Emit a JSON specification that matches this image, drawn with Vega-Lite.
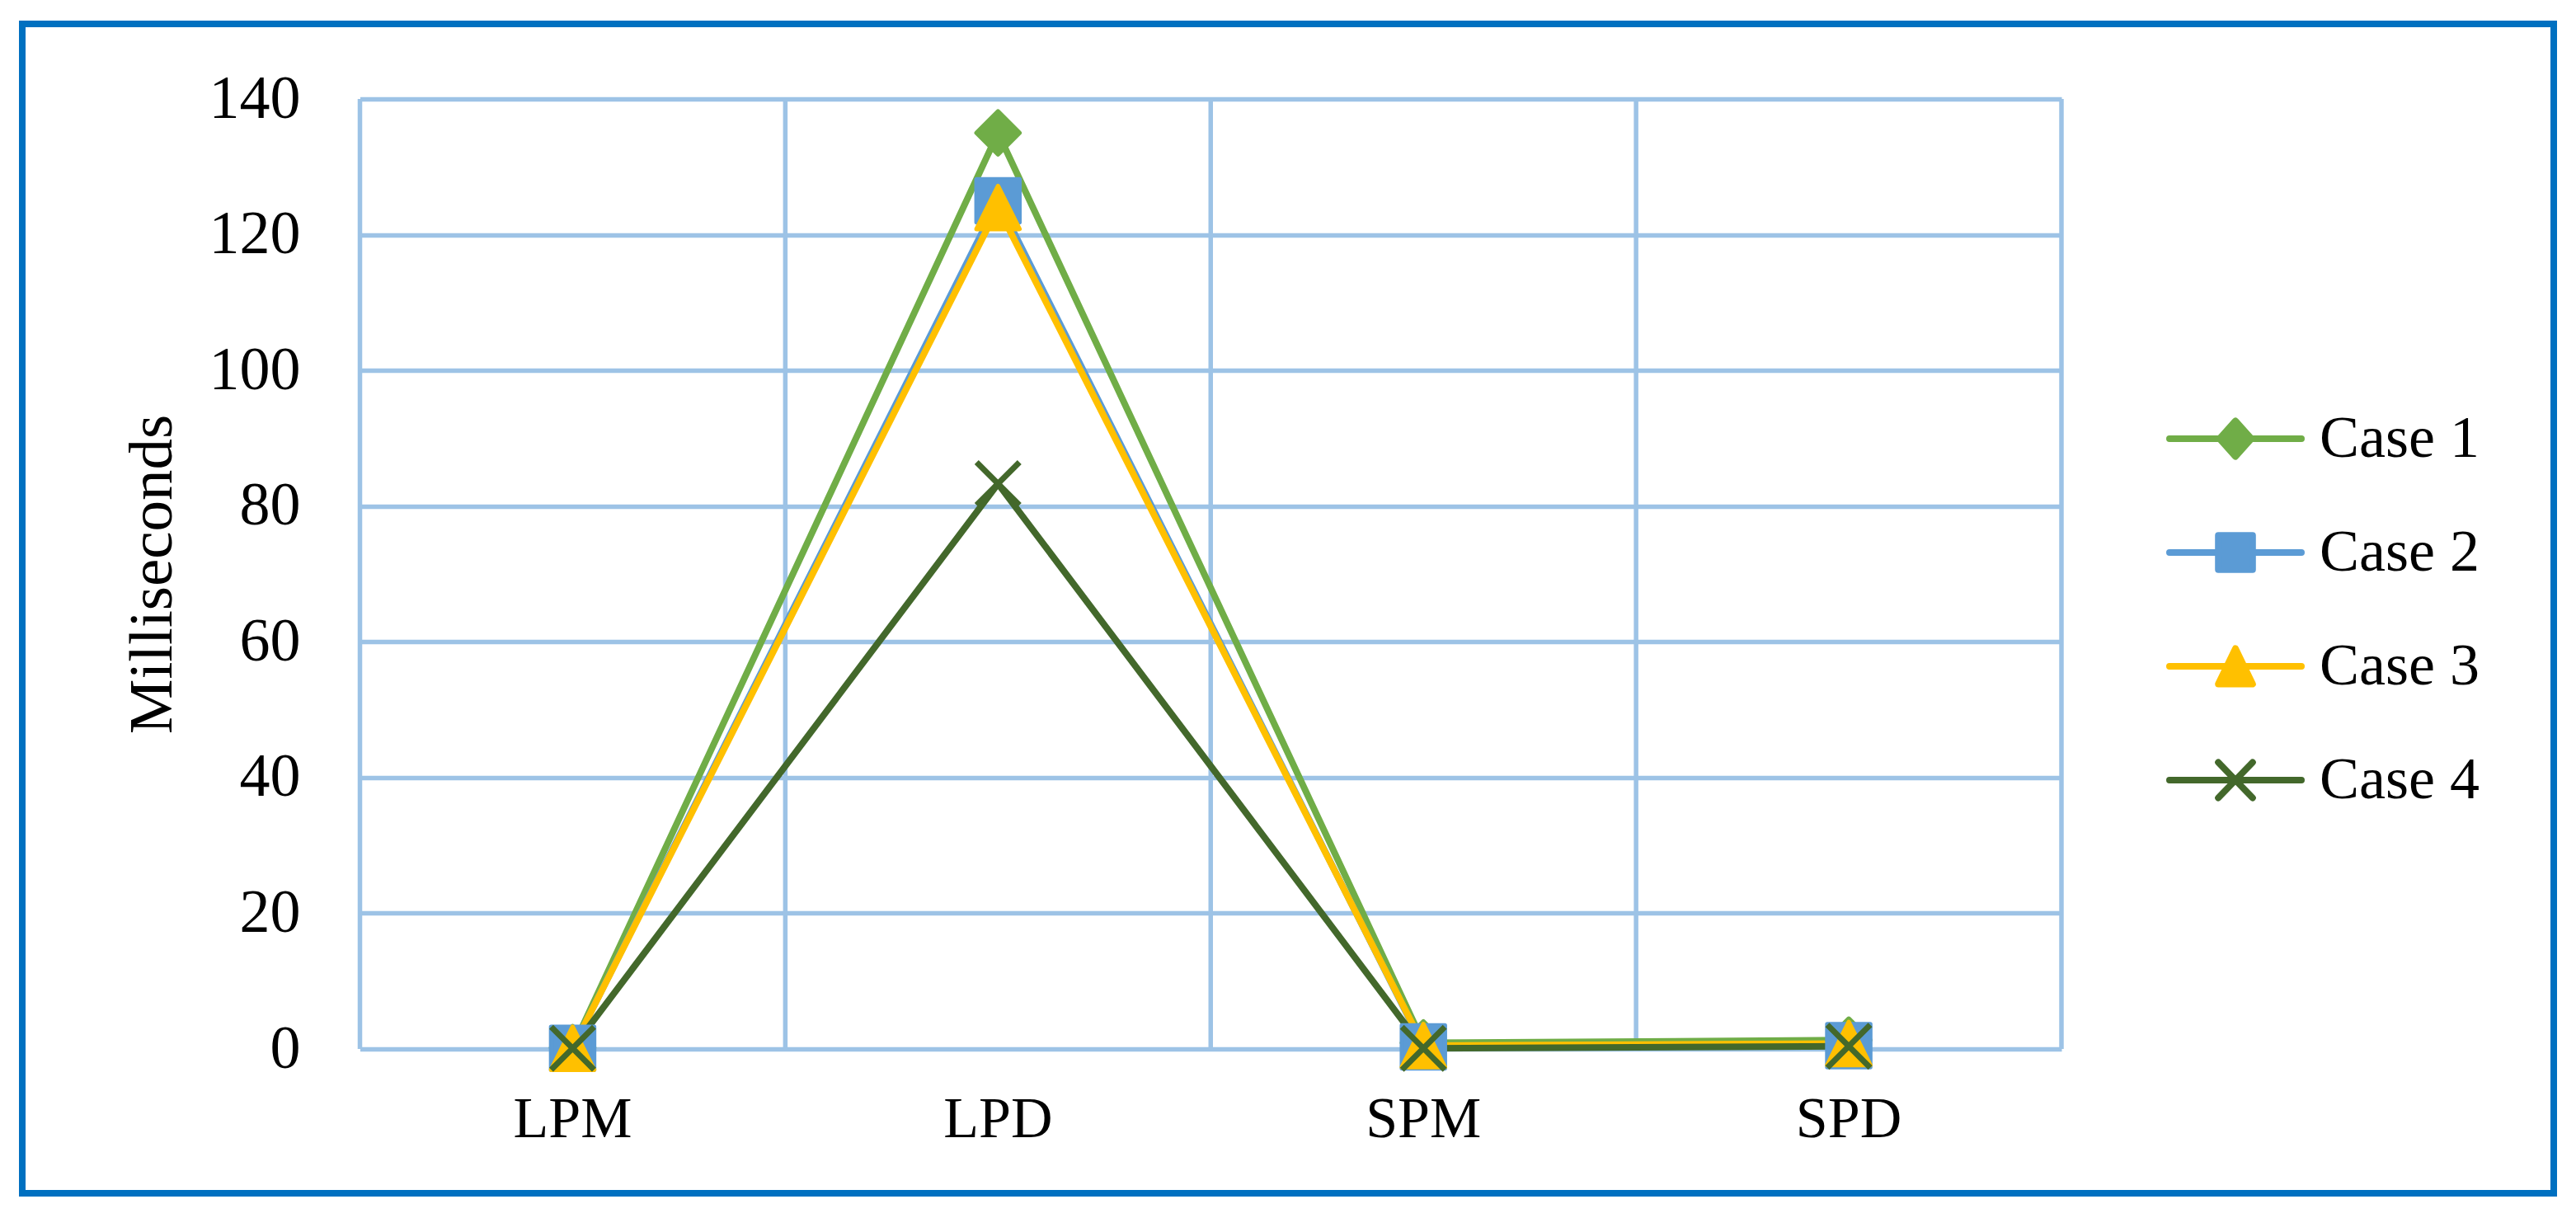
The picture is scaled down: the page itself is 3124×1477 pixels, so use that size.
{
  "$schema": "https://vega.github.io/schema/vega-lite/v6.json",
  "width": 3070,
  "height": 1418,
  "autosize": {"type": "none"},
  "padding": {"left": 27, "top": 29, "right": 27, "bottom": 30},
  "background": "white",
  "config": {
    "view": {"stroke": "#0070C0", "strokeWidth": 8},
    "font": "Liberation Serif",
    "axis": {"labelColor": "black", "titleColor": "black", "labelFont": "Liberation Serif", "titleFont": "Liberation Serif"}
  },
  "data": {
    "values": [
      {"series": "Case 1", "metric": "LPM", "ms": 0.2},
      {"series": "Case 1", "metric": "LPD", "ms": 135},
      {"series": "Case 1", "metric": "SPM", "ms": 0.9},
      {"series": "Case 1", "metric": "SPD", "ms": 1.3},
      {"series": "Case 2", "metric": "LPM", "ms": 0.1},
      {"series": "Case 2", "metric": "LPD", "ms": 125},
      {"series": "Case 2", "metric": "SPM", "ms": 0.3},
      {"series": "Case 2", "metric": "SPD", "ms": 0.5},
      {"series": "Case 3", "metric": "LPM", "ms": 0.1},
      {"series": "Case 3", "metric": "LPD", "ms": 124},
      {"series": "Case 3", "metric": "SPM", "ms": 0.5},
      {"series": "Case 3", "metric": "SPD", "ms": 0.8},
      {"series": "Case 4", "metric": "LPM", "ms": 0.1},
      {"series": "Case 4", "metric": "LPD", "ms": 83.3},
      {"series": "Case 4", "metric": "SPM", "ms": 0.1},
      {"series": "Case 4", "metric": "SPD", "ms": 0.4}
    ]
  },
  "encoding": {
    "x": {
      "field": "metric", "type": "nominal",
      "sort": ["LPM", "LPD", "SPM", "SPD"],
      "scale": {"type": "band", "range": [409.5, 2473], "paddingInner": 0, "paddingOuter": 0},
      "axis": {
        "title": null, "orient": "bottom", "offset": -175,
        "domain": false, "ticks": false, "grid": false,
        "labelAngle": 0, "labelFontSize": 70, "labelBaseline": "alphabetic", "labelPadding": 106
      }
    },
    "y": {
      "field": "ms", "type": "quantitative",
      "scale": {"domain": [0, 140], "range": [1243, 91], "nice": false, "zero": true},
      "axis": {
        "title": "Milliseconds", "orient": "left", "offset": -409.5,
        "values": [0, 20, 40, 60, 80, 100, 120, 140],
        "domain": false, "ticks": false,
        "grid": true, "gridColor": "#9DC3E6", "gridWidth": 5.5, "gridOpacity": 1,
        "labelFontSize": 74, "labelPadding": 72.5,
        "titleFontSize": 75, "titleFontWeight": "normal", "titlePadding": 30
      }
    },
    "color": {
      "field": "series", "type": "nominal",
      "scale": {"domain": ["Case 1", "Case 2", "Case 3", "Case 4"], "range": ["#70AD47", "#5B9BD5", "#FFC000", "#43682B"]},
      "legend": {
        "title": null, "orient": "none", "legendX": 2640, "legendY": 459,
        "padding": 0, "symbolSize": 6400, "symbolStrokeWidth": 8,
        "labelFont": "Liberation Serif", "labelFontSize": 72, "labelColor": "black", "labelLimit": 0,
        "labelOffset": 58, "rowPadding": 58,
        "encode": {
          "symbols": {
            "update": {
              "shape": {"signal": "datum.value === 'Case 1' ? 'M-2,0H2M-0.48,0L0,-0.54L0.48,0L0,0.54Z' : datum.value === 'Case 2' ? 'M-2,0H2M-0.52,-0.52H0.52V0.52H-0.52Z' : datum.value === 'Case 3' ? 'M-2,0H2M0,-0.54L0.52,0.54H-0.52Z' : 'M-2,0H2M-0.52,-0.54L0.52,0.54M-0.52,0.54L0.52,-0.54'"},
              "fill": {"scale": "color", "field": "value"},
              "stroke": {"scale": "color", "field": "value"},
              "strokeWidth": {"value": 8},
              "strokeCap": {"value": "round"},
              "strokeJoin": {"value": "round"},
              "opacity": {"value": 1}
            }
          }
        }
      }
    }
  },
  "layer": [
    {
      "transform": [{"filter": "datum.series === 'Case 1'"}],
      "mark": {"type": "rule", "color": "#9DC3E6", "strokeWidth": 5.5},
      "encoding": {
        "x": {"field": "metric", "type": "nominal", "sort": ["LPM", "LPD", "SPM", "SPD"], "bandPosition": 0},
        "y": {"datum": 0},
        "y2": {"datum": 140},
        "color": {"value": "#9DC3E6"}
      }
    },
    {
      "transform": [{"filter": "datum.series === 'Case 1' && datum.metric === 'SPD'"}],
      "mark": {"type": "rule", "color": "#9DC3E6", "strokeWidth": 5.5},
      "encoding": {
        "x": {"field": "metric", "type": "nominal", "sort": ["LPM", "LPD", "SPM", "SPD"], "bandPosition": 1},
        "y": {"datum": 0},
        "y2": {"datum": 140},
        "color": {"value": "#9DC3E6"}
      }
    },
    {
      "mark": {"type": "line", "strokeWidth": 8, "strokeCap": "round", "strokeJoin": "round"},
      "encoding": {"order": {"value": null}}
    },
    {
      "transform": [{"filter": "datum.series === 'Case 1'"}],
      "mark": {"type": "point", "filled": true, "shape": "M-1,0L0,-1L1,0L0,1Z", "size": 2704, "stroke": "#70AD47", "strokeWidth": 5.5, "strokeJoin": "round", "opacity": 1}
    },
    {
      "transform": [{"filter": "datum.series === 'Case 2'"}],
      "mark": {"type": "point", "filled": true, "shape": "M-1,-1H1V1H-1Z", "size": 2704, "stroke": "#5B9BD5", "strokeWidth": 5.5, "strokeJoin": "round", "opacity": 1}
    },
    {
      "transform": [{"filter": "datum.series === 'Case 3'"}],
      "mark": {"type": "point", "filled": true, "shape": "M0,-1L1,1H-1Z", "size": 2704, "stroke": "#FFC000", "strokeWidth": 5.5, "strokeJoin": "round", "opacity": 1}
    },
    {
      "transform": [{"filter": "datum.series === 'Case 4'"}],
      "mark": {"type": "point", "filled": true, "shape": "M-1,-1L1,1M-1,1L1,-1", "size": 2704, "stroke": "#43682B", "strokeWidth": 7, "opacity": 1}
    }
  ]
}
